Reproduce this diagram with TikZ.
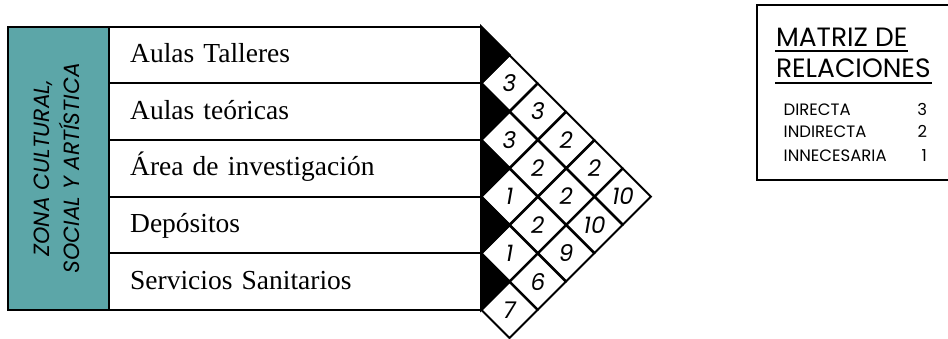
\documentclass[tikz,border=0pt]{standalone}
\usepackage{fontspec}
\setmainfont{Liberation Serif}
\newfontfamily\gothic{Poppins}
\usetikzlibrary{shapes.geometric}
\usetikzlibrary{positioning}
\definecolor{zonateal}{RGB}{92,166,168}

\begin{document}
\begin{tikzpicture}[x=1pt,y=-1pt,line width=2pt,
espacio/.style={draw,rectangle,outer sep=0pt,minimum width=372pt,minimum height=56.7pt,text width=330pt,align=left,inner xsep=21pt,text height=20pt,text depth=5pt,font=\fontsize{27.5}{30}\selectfont},
zona/.style={draw,fill=zonateal,rectangle,outer sep=0pt,minimum width=101pt,minimum height=283.5pt},
celda/.style={draw,diamond,aspect=1,inner sep=0pt,minimum width=56.7pt,minimum height=56.7pt,font=\gothic\itshape\fontsize{23}{23}\selectfont},
cuna/.style={fill=black,draw=black},
titulo/.style={inner sep=0pt,font=\gothic\fontsize{26.5}{27}\selectfont},
item/.style={inner sep=0pt,font=\gothic\fontsize{16.5}{17}\selectfont}]
\useasboundingbox (0,0) rectangle (948,338);

\node[espacio] (r1) at (295.15,54.85) {Aulas Talleres};
\node[espacio,below=0pt of r1] (r2) {Aulas teóricas};
\node[espacio,below=0pt of r2] (r3) {Área de investigación};
\node[espacio,below=0pt of r3] (r4) {Depósitos};
\node[espacio,below=0pt of r4] (r5) {Servicios Sanitarios};

\node[zona,anchor=north east] (zona) at (r1.north west) {};
\node[rotate=90,align=center,font=\gothic\itshape\fontsize{22}{30}\selectfont] (zonatxt) at ([xshift=-2pt]zona.center) {ZONA CULTURAL,\\SOCIAL Y ARTÍSTICA};

\filldraw[cuna] (r1.north east) -- ([xshift=28.35pt]r1.east) -- (r1.south east) -- cycle;
\filldraw[cuna] (r2.north east) -- ([xshift=28.35pt]r2.east) -- (r2.south east) -- cycle;
\filldraw[cuna] (r3.north east) -- ([xshift=28.35pt]r3.east) -- (r3.south east) -- cycle;
\filldraw[cuna] (r4.north east) -- ([xshift=28.35pt]r4.east) -- (r4.south east) -- cycle;
\filldraw[cuna] (r5.north east) -- ([xshift=28.35pt]r5.east) -- (r5.south east) -- cycle;

% matriz
\node[celda] (c00) at ([xshift=28.35pt]r1.south east) {3};
\node[celda] (c01) at ([xshift=28.35pt]r2.south east) {3};
\node[celda] (c02) at ([xshift=28.35pt]r3.south east) {1};
\node[celda] (c03) at ([xshift=28.35pt]r4.south east) {1};
\node[celda] (c04) at ([xshift=28.35pt]r5.south east) {7};
\node[celda] (c10) at ([xshift=56.7pt]r2.east) {3};
\node[celda] (c11) at ([xshift=56.7pt]r3.east) {2};
\node[celda] (c12) at ([xshift=56.7pt]r4.east) {2};
\node[celda] (c13) at ([xshift=56.7pt]r5.east) {6};
\node[celda] (c20) at ([xshift=85.05pt]r2.south east) {2};
\node[celda] (c21) at ([xshift=85.05pt]r3.south east) {2};
\node[celda] (c22) at ([xshift=85.05pt]r4.south east) {9};
\node[celda] (c30) at ([xshift=113.4pt]r3.east) {2};
\node[celda] (c31) at ([xshift=113.4pt]r4.east) {10};
\node[celda] (c40) at ([xshift=141.75pt]r3.south east) {10};

% leyenda
\node[rectangle,minimum width=190.7pt,minimum height=172.7pt,anchor=north west] (leyenda) at (757.3,5) {};
\draw (leyenda.north east) -- (leyenda.north west) -- (leyenda.south west) -- (leyenda.south east);
\node[titulo,anchor=base west] (t1) at (775,46.7) {MATRIZ DE};
\node[titulo,anchor=base west] (t2) at (775,77.3) {RELACIONES};
\draw ([yshift=-4.3pt]t1.base west) -- ([yshift=-4.3pt]t1.base east);
\draw ([yshift=-6pt]t2.base west) -- ([yshift=-6pt]t2.base east);
\node[item,anchor=base west] (directa) at (782.7,115) {DIRECTA};
\node[item,anchor=base west] (indirecta) at (782.7,137.3) {INDIRECTA};
\node[item,anchor=base west] (innecesaria) at (782.7,161.7) {INNECESARIA};
\node[item,anchor=base east] (v3) at (928,115) {3};
\node[item,anchor=base east] (v2) at (928,137.3) {2};
\node[item,anchor=base east] (v1) at (928,161.7) {1};
\end{tikzpicture}
\end{document}
